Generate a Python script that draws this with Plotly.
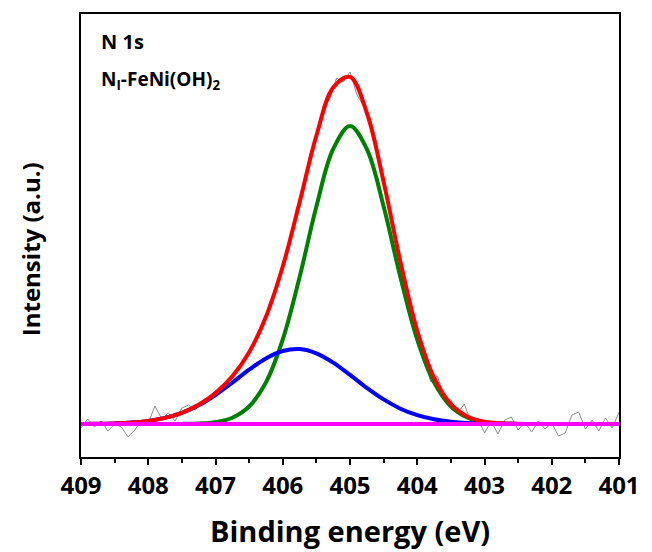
import numpy as np
import plotly.graph_objects as go

# Binding energies of fitted component grid (eV)
fit_energy = [409.00, 408.75, 408.50, 408.25, 408.00, 407.75, 407.50, 407.25,
              407.00, 406.75, 406.50, 406.25, 406.00, 405.75, 405.50, 405.25,
              405.00, 404.75, 404.50, 404.25, 404.00, 403.75, 403.50, 403.25,
              403.00, 402.75, 402.50, 402.25, 402.00, 401.75, 401.50, 401.25, 401.00]
# Component 1 (blue, ~405.8 eV)
comp_blue = [0.1, 0.2, 0.6, 1.4, 3.1, 6.1, 11.1, 18.7,
             29.0, 41.3, 54.3, 65.6, 73.0, 74.9, 70.7, 61.4,
             49.1, 36.2, 24.6, 15.3, 8.8, 4.7, 2.3, 1.0,
             0.4, 0.2, 0.1, 0, 0, 0, 0, 0, 0]
# Component 2 (green, ~405.0 eV)
comp_green = [0, 0, 0, 0, 0, 0, 0.1, 0.5,
              1.9, 6.3, 17.5, 41.6, 84.5, 146.7, 217.5, 275.0,
              298.0, 275.0, 217.5, 146.7, 84.5, 41.6, 17.5, 6.3,
              1.9, 0.5, 0.1, 0, 0, 0, 0, 0, 0]
# Envelope (red) = sum of components
envelope = [b + g for b, g in zip(comp_blue, comp_green)]
baseline = [0.0] * len(fit_energy)

# Raw (measured) spectrum, background subtracted, 409.0 -> 401.0 eV in 0.1 eV steps
raw_energy = [round(409.0 - 0.1 * i, 1) for i in range(81)]
raw_intensity = [-4, 5, -3, 3, -7, 0, -3, -13, -6, 4,
                 1, 18, 5, 11, 3, 16, 19, 14, 23, 27,
                 33, 37, 45, 52, 60, 74, 84, 98, 121, 136,
                 162, 176, 215, 230, 270, 284, 318, 325, 346, 342,
                 352, 330, 318, 306, 280, 238, 214, 172, 150, 112,
                 96, 68, 42, 48, 27, 24, 11, 20, 2, 6,
                 -9, 3, -10, 4, 7, -6, 2, -8, 3, -5,
                 1, -12, -9, 9, 12, -5, 4, -7, 6, -4,
                 12]

x_ticks = [409, 408, 407, 406, 405, 404, 403, 402, 401]

FONT = "Open Sans"

fig = go.Figure()
fig.add_trace(go.Scatter(x=raw_energy, y=raw_intensity, mode="lines",
                         line=dict(color="#8c8c8c", width=1), showlegend=False))
fig.add_trace(go.Scatter(x=fit_energy, y=comp_green, mode="lines",
                         line=dict(color="#008000", width=4, shape="spline"), showlegend=False))
fig.add_trace(go.Scatter(x=fit_energy, y=comp_blue, mode="lines",
                         line=dict(color="#0000ff", width=4, shape="spline"), showlegend=False))
fig.add_trace(go.Scatter(x=fit_energy, y=envelope, mode="lines",
                         line=dict(color="#ff0000", width=4, shape="spline"), showlegend=False))
fig.add_trace(go.Scatter(x=fit_energy, y=baseline, mode="lines",
                         line=dict(color="#ff00ff", width=4), showlegend=False))

fig.update_layout(
    width=652, height=552,
    margin=dict(l=81, r=25, t=14, b=95),
    paper_bgcolor="white", plot_bgcolor="white",
    font=dict(family=FONT, color="black"),
    annotations=[
        dict(text="<b>N 1s</b>", x=0.033, y=0.938, xref="paper", yref="paper",
             xanchor="left", yanchor="middle", showarrow=False,
             font=dict(size=20, family=FONT, color="black")),
        dict(text="<b>N<sub>I</sub>-FeNi(OH)<sub>2</sub></b>", x=0.033, y=0.85,
             xref="paper", yref="paper", xanchor="left", yanchor="middle",
             showarrow=False, font=dict(size=19, family=FONT, color="black")),
        dict(text="<b>Binding energy (eV)</b>", x=0.5, y=-0.165,
             xref="paper", yref="paper", xanchor="center", yanchor="middle",
             showarrow=False, font=dict(size=29, family=FONT, color="black")),
        dict(text="<b>Intensity (a.u.)</b>", x=-0.094, y=0.47, textangle=-90,
             xref="paper", yref="paper", xanchor="center", yanchor="middle",
             showarrow=False, font=dict(size=24, family=FONT, color="black")),
    ],
)

fig.update_xaxes(
    range=[409, 401], tickmode="array", tickvals=x_ticks,
    ticktext=[f"<b>{t}</b>" for t in x_ticks],
    tickfont=dict(size=24, family=FONT, color="black"),
    ticks="outside", ticklen=6, tickwidth=2, tickcolor="black",
    minor=dict(tickvals=[408.5, 407.5, 406.5, 405.5, 404.5, 403.5, 402.5, 401.5],
               ticks="outside", ticklen=4, tickwidth=2, tickcolor="black"),
    showline=True, linecolor="black", linewidth=2, mirror=True,
    showgrid=False, zeroline=False,
)
fig.update_yaxes(
    range=[-33, 410], showticklabels=False, ticks="",
    showline=True, linecolor="black", linewidth=2, mirror=True,
    showgrid=False, zeroline=False,
)

fig.write_html("out.html")
